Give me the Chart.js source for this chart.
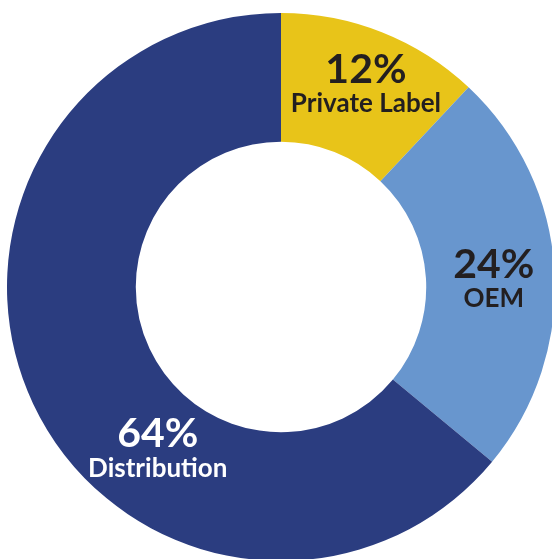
<!DOCTYPE html>
<html>
<head>
<meta charset="utf-8">
<script src="https://cdn.jsdelivr.net/npm/chart.js@4.4.0/dist/chart.umd.min.js"></script>
<style>
	html, body { margin: 0; padding: 0; background: #fff; overflow: hidden; width: 552px; height: 559px; }
	#wrap { position: absolute; left: 7px; top: 13px; width: 548px; height: 548px; }
</style>
</head>
<body>
<div id="wrap"><canvas id="share-chart" width="548" height="548"></canvas></div>
<script>
// data
var categories = ["Private Label", "OEM", "Distribution"];
var shares = [12, 24, 64];
var sliceColors = ["#E8C419", "#6896CE", "#2B3D80"];
var labelColors = ["#231F20", "#231F20", "#FFFFFF"];

// where each label sits: angle from top (clockwise, degrees) and distance from the centre
var labelSpots = [
	{ angle : 22.6, dist : 221, gap : 29 },
	{ angle : 87.6, dist : 213, gap : 29 },
	{ angle : 217.6, dist : 202, gap : 30 }
];

// draw the percent + name inside each slice
var sliceLabels = {
	id : "sliceLabels",
	afterDatasetsDraw : function(chart) {
		var ctx = chart.ctx;
		var arcs = chart.getDatasetMeta(0).data;
		var total = shares.reduce(function(a, b) { return a + b; }, 0);
		ctx.save();
		ctx.textAlign = "center";
		ctx.textBaseline = "alphabetic";
		arcs.forEach(function(arc, i) {
			var spot = labelSpots[i];
			var a = spot.angle * Math.PI / 180;
			var x = arc.x + spot.dist * Math.sin(a);
			var y = arc.y - spot.dist * Math.cos(a);
			var pct = Math.round(shares[i] / total * 100) + "%";
			ctx.fillStyle = labelColors[i];
			ctx.font = "bold 41px Lato";
			ctx.fillText(pct, x, y);
			ctx.font = "bold 26px Lato";
			ctx.fillText(categories[i], x, y + spot.gap);
		});
		ctx.restore();
	}
};

var shareCtx = document.getElementById("share-chart");
var shareChart = new Chart(shareCtx, {
	type : "doughnut",
	data : {
		labels : categories,
		datasets : [
			{
				data : shares,
				backgroundColor : sliceColors,
				borderWidth : 0,
				hoverOffset : 0,
				offset : 0
			}
		]
	},
	options : {
		responsive : false,
		animation : false,
		devicePixelRatio : 1,
		cutout : "53%",
		events : [],
		layout : { padding : 0 },
		plugins : {
			legend : { display : false },
			tooltip : { enabled : false }
		}
	},
	plugins : [sliceLabels]
});
</script>
</body>
</html>
